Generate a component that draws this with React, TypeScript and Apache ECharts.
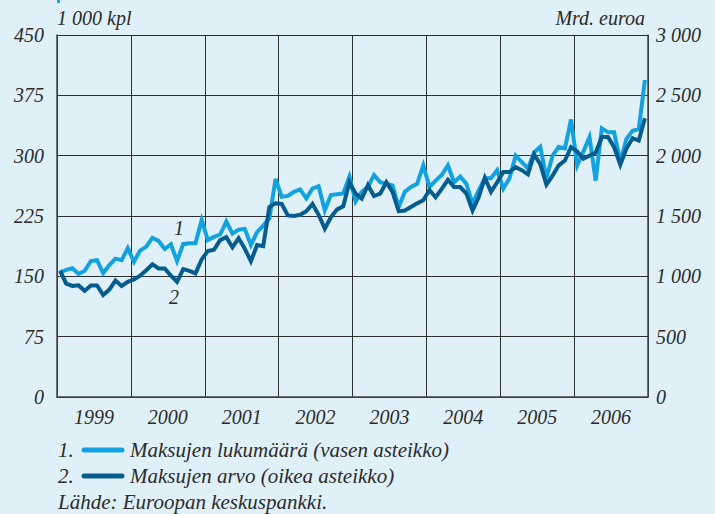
import React, { useEffect, useRef } from "react";
import * as echarts from "echarts";

const years = ["1999", "2000", "2001", "2002", "2003", "2004", "2005", "2006"];
const leftTicks = [0, 75, 150, 225, 300, 375, 450];
const rightTicks = [0, 500, 1000, 1500, 2000, 2500, 3000];

// Monthly values, Jan 1999 – Dec 2006
// 1. Maksujen lukumäärä, 1 000 kpl (vasen asteikko)
const countSeries = [
  155, 158, 160, 153, 157, 169, 170, 154, 164, 172, 170, 185,
  168, 182, 187, 198, 194, 184, 190, 169, 190, 191, 191, 220,
  195, 199, 202, 218, 203, 208, 209, 189, 205, 213, 222, 271,
  249, 250, 255, 258, 247, 259, 262, 232, 251, 252, 253, 274,
  243, 255, 261, 276, 267, 265, 263, 236, 255, 261, 265, 288,
  261, 269, 276, 288, 267, 274, 265, 240, 257, 272, 272, 282,
  259, 272, 300, 292, 284, 304, 311, 272, 300, 311, 309, 345,
  288, 305, 323, 269, 334, 329, 329, 292, 321, 331, 333, 394,
];
// 2. Maksujen arvo, Mrd. euroa (oikea asteikko)
const valueSeries = [
  1045, 940, 920, 925, 880, 925, 925, 845, 890, 965, 920, 955,
  975, 1005, 1050, 1100, 1065, 1065, 1005, 955, 1060, 1045, 1025, 1140,
  1210, 1220, 1300, 1325, 1240, 1315, 1230, 1125, 1260, 1250, 1575, 1605,
  1600, 1505, 1500, 1510, 1540, 1600, 1510, 1395, 1490, 1555, 1580, 1780,
  1685, 1645, 1755, 1665, 1685, 1780, 1700, 1540, 1545, 1575, 1605, 1630,
  1715, 1655, 1725, 1800, 1740, 1740, 1685, 1545, 1655, 1815, 1700, 1780,
  1865, 1865, 1905, 1880, 1845, 2010, 1930, 1760, 1835, 1920, 1960, 2070,
  2035, 1975, 2000, 2025, 2155, 2155, 2070, 1925, 2060, 2145, 2125, 2310,
];

const legendLabels = [
  "Maksujen lukumäärä (vasen asteikko)",
  "Maksujen arvo (oikea asteikko)",
];
const sourceText = "Lähde: Euroopan keskuspankki.";

const LIGHT = "#12a2e0";
const DARK = "#045d8e";
const BG = "#e0f0f9";
const INK = "#2b2b2b";
const GRID = "#2e2e2e";
const FONT = "'Liberation Serif', 'DejaVu Serif', serif";

const fmt = (v: number) => {
  const s = String(v);
  return s.length > 3 ? s.slice(0, s.length - 3) + " " + s.slice(-3) : s;
};

export default function App() {
  const ref = useRef<HTMLDivElement>(null);
  useEffect(() => {
    if (!ref.current) return;
    const chart = echarts.init(ref.current, undefined, { renderer: "svg" });
    const textStyle = { color: INK, fontFamily: FONT, fontStyle: "italic" as const, fontSize: 20 };
    const legendFont = `italic 21px ${FONT}`;
    chart.setOption({
      animation: false,
      backgroundColor: BG,
      grid: { left: 57, right: 67, top: 35, bottom: 117, containLabel: false },
      xAxis: [
        {
          type: "value",
          min: 0,
          max: years.length * 12,
          interval: 12,
          axisLine: { show: true, lineStyle: { color: "#444", width: 1.5 } },
          axisTick: { show: false },
          axisLabel: { show: false },
          splitLine: { show: true, lineStyle: { color: GRID, width: 1 } },
        },
        {
          type: "category",
          data: years,
          position: "bottom",
          boundaryGap: true,
          axisLine: { show: false },
          axisTick: { show: false },
          splitLine: { show: false },
          axisLabel: { ...textStyle, margin: 10 },
        },
      ],
      yAxis: [
        {
          type: "value",
          min: leftTicks[0],
          max: leftTicks[leftTicks.length - 1],
          interval: 75,
          position: "left",
          name: "1 000 kpl",
          nameLocation: "end",
          nameGap: 7,
          nameTextStyle: { ...textStyle, align: "left", padding: [0, 0, 0, 0] },
          axisLine: { show: true, lineStyle: { color: "#444", width: 1.5 } },
          axisTick: { show: false },
          axisLabel: { ...textStyle, margin: 13, formatter: (v: number) => fmt(v) },
          splitLine: { show: true, lineStyle: { color: GRID, width: 1 } },
        },
        {
          type: "value",
          min: rightTicks[0],
          max: rightTicks[rightTicks.length - 1],
          interval: 500,
          position: "right",
          name: "Mrd. euroa",
          nameLocation: "end",
          nameGap: 7,
          nameTextStyle: { ...textStyle, align: "right", padding: [0, 3, 0, 0] },
          axisLine: { show: true, lineStyle: { color: "#444", width: 1.5 } },
          axisTick: { show: false },
          axisLabel: { ...textStyle, margin: 8, formatter: (v: number) => fmt(v) },
          splitLine: { show: false },
        },
      ],
      series: [
        {
          type: "line",
          name: legendLabels[0],
          xAxisIndex: 0,
          yAxisIndex: 0,
          symbol: "none",
          lineStyle: { color: LIGHT, width: 4, join: "miter" },
          data: countSeries.map((v, i) => [i + 0.5, v]),
          z: 2,
        },
        {
          type: "line",
          name: legendLabels[1],
          xAxisIndex: 0,
          yAxisIndex: 1,
          symbol: "none",
          lineStyle: { color: DARK, width: 4, join: "miter" },
          data: valueSeries.map((v, i) => [i + 0.5, v]),
          z: 3,
        },
      ],
      graphic: [
        { type: "rect", shape: { x: 57, y: 0, width: 3, height: 3 }, style: { fill: "#1aa3df" } },
        { type: "text", left: 174, top: 218, style: { text: "1", fill: INK, font: `italic 20px ${FONT}` } },
        { type: "text", left: 169, top: 287, style: { text: "2", fill: INK, font: `italic 20px ${FONT}` } },
        { type: "text", left: 58, top: 439, style: { text: "1.", fill: INK, font: legendFont } },
        { type: "line", shape: { x1: 84, y1: 450, x2: 122, y2: 450 }, style: { stroke: LIGHT, lineWidth: 5, lineCap: "round" } },
        { type: "text", left: 130, top: 439, style: { text: legendLabels[0], fill: INK, font: legendFont } },
        { type: "text", left: 58, top: 465, style: { text: "2.", fill: INK, font: legendFont } },
        { type: "line", shape: { x1: 84, y1: 476, x2: 122, y2: 476 }, style: { stroke: DARK, lineWidth: 5, lineCap: "round" } },
        { type: "text", left: 130, top: 465, style: { text: legendLabels[1], fill: INK, font: legendFont } },
        { type: "text", left: 58, top: 491, style: { text: sourceText, fill: INK, font: legendFont } },
      ],
    });
    return () => chart.dispose();
  }, []);
  return (
    <div
      ref={ref}
      style={{ position: "fixed", left: 0, top: 0, width: 715, height: 514 }}
    />
  );
}
